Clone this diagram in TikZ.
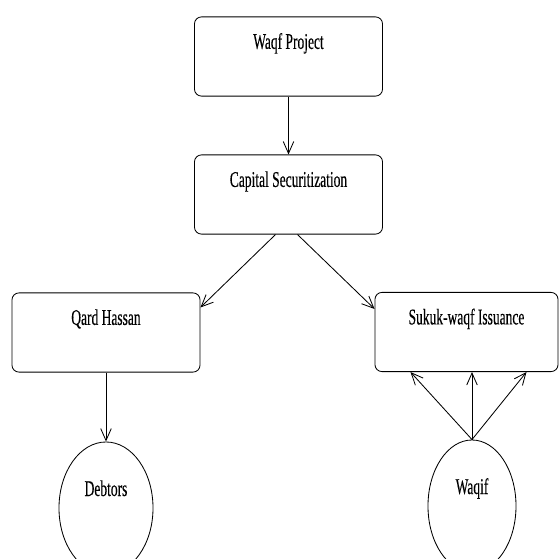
\documentclass[tikz,border=0pt]{standalone}
\usepackage{fontspec}
\setmainfont[FakeStretch=0.6,FakeBold=0.3]{Liberation Serif}
\usetikzlibrary{arrows.meta,calc,shapes.geometric}

\begin{document}
\begin{tikzpicture}[x=0.025cm, y=-0.025cm,
		stagebox/.style={draw, rounded corners=5pt, inner sep=0pt, minimum width=4.7cm,
			text height=0.8cm, text depth=1.18cm, anchor=center},
		partyoval/.style={draw, ellipse, inner sep=0pt, minimum height=3.3cm,
			text height=0.4cm, text depth=1.0cm},
		flow/.style={-{Straight Barb[length=8.5pt,width=7.5pt]}, line width=0.6pt},
		every node/.style={font=\fontsize{16}{19}\selectfont, line width=0.6pt}]
		\useasboundingbox (0,0) rectangle (559,559);
		
		\node[stagebox] (project) at (288.5,56.5) {Waqf Project};
		\node[stagebox] (capital) at (288.5,194.5) {Capital Securitization};
		\node[stagebox] (qard) at (106,332.5) {Qard Hassan};
		\node[stagebox, minimum width=4.575cm] (sukuk) at (466.5,332) {Sukuk-waqf Issuance};
		
		\node[partyoval, minimum width=2.35cm] (debtors) at (106,508) {Debtors};
		\node[partyoval, minimum width=2.2cm] (waqif) at (472,506) {Waqif};
		
		\draw[flow] (project.south) -- (capital.north);
		\draw[flow] ($(capital.south)+(-13,0)$) -- ($(qard.north east)+(0,15)$);
		\draw[flow] ($(capital.south)+(9,0)$) -- ($(sukuk.north west)+(0,17)$);
		\draw[flow] (qard.south) -- (debtors.north);
		
		% waqif feeds the issuance
		\draw[flow] (waqif.north) -- ($(sukuk.south)+(-56,0)$);
		\draw[flow] (waqif.north) -- (waqif.north |- sukuk.south);
		\draw[flow] (waqif.north) -- ($(sukuk.south)+(60,0)$);
	\end{tikzpicture}
\end{document}
